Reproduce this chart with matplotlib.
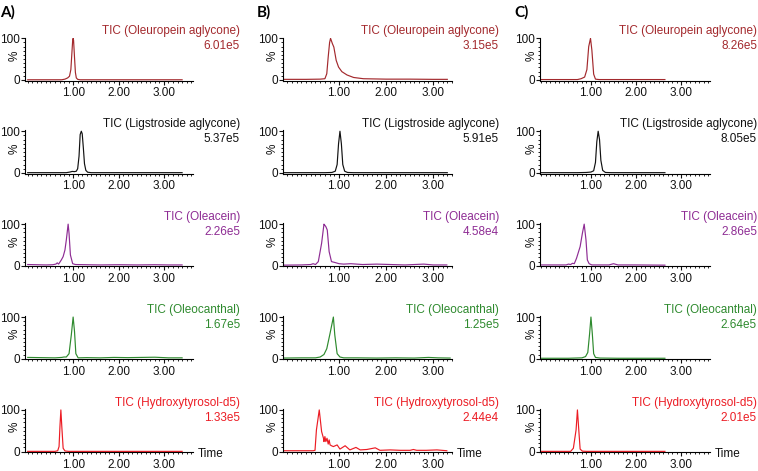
#!/usr/bin/env python
"""
TIC chromatograms of the five olive phenols in three samples (A, B, C).
Each trace is normalised to 100 % with its absolute intensity printed under the name.
"""
import matplotlib
matplotlib.use("Agg")
import matplotlib.pyplot as plt
from matplotlib.ticker import FixedLocator, MultipleLocator

plt.rcParams['font.family'] = ['Liberation Sans', 'DejaVu Sans']

compounds = ["Oleuropein aglycone", "Ligstroside aglycone", "Oleacein",
             "Oleocanthal", "Hydroxytyrosol-d5"]
panel_names = ["A)", "B)", "C)"]
scales_a = ["6.01e5", "5.37e5", "2.26e5", "1.67e5", "1.33e5"]
scales_b = ["3.15e5", "5.91e5", "4.58e4", "1.25e5", "2.44e4"]
scales_c = ["8.26e5", "8.05e5", "2.86e5", "2.64e5", "2.01e5"]
x_ticks = [1, 2, 3]

# --- sample A (time in min, intensity in %) ---
a1_t = [0.00, 0.75, 0.82, 0.88, 0.92, 0.95, 0.97, 0.99, 1.00, 1.01, 1.03, 1.05, 1.07, 1.10, 1.15, 3.40]
a1_y = [0.5, 0.5, 2, 5, 9, 25, 60, 95, 100, 95, 55, 18, 5, 1.5, 0.5, 0.5]
a2_t = [0.00, 0.85, 0.93, 0.98, 1.03, 1.07, 1.10, 1.13, 1.155, 1.18, 1.20, 1.225, 1.25, 1.28, 1.32, 1.40, 3.40]
a2_y = [0.5, 0.5, 2, 3.5, 3, 4, 10, 40, 92, 100, 94, 60, 22, 6, 1.5, 0.5, 0.5]
a3_t = [0.00, 0.20, 0.40, 0.55, 0.62, 0.65, 0.68, 0.74, 0.78, 0.82, 0.85, 0.89, 0.91, 0.94, 0.99,
        1.05, 1.30, 1.60, 2.00, 2.40, 2.80, 3.10, 3.40]
a3_y = [3, 2.5, 2, 2.5, 4, 7, 4, 14, 22, 38, 62, 100, 78, 26, 5, 3, 2.5, 2, 2.5, 2, 2.5, 2, 2]
a4_t = [0.00, 0.30, 0.60, 0.75, 0.80, 0.85, 0.91, 0.96, 1.00, 1.03, 1.06, 1.11, 1.30, 1.60, 1.90,
        2.20, 2.50, 2.80, 3.10, 3.40]
a4_y = [3, 2.5, 2, 3, 4, 4, 12, 57, 100, 66, 12, 2, 2.5, 2, 3, 2.5, 3, 3.5, 2, 2]
a5_t = [0.00, 0.60, 0.66, 0.69, 0.71, 0.73, 0.75, 0.78, 0.82, 0.90, 3.40]
a5_y = [0.5, 0.5, 2, 12, 61, 100, 61, 8, 1.5, 0.5, 0.5]

# --- sample B ---
b1_t = [-0.18, 0.30, 0.60, 0.70, 0.74, 0.77, 0.80, 0.82, 0.86, 0.89, 0.94, 0.99, 1.06, 1.17, 1.31,
        1.52, 2.00, 2.50, 3.00, 3.30]
b1_y = [1.5, 1.5, 2, 3, 15, 55, 90, 100, 87, 79, 47, 31, 20, 12, 6, 3, 2, 2, 1.5, 1.5]
b2_t = [-0.18, 0.70, 0.85, 0.92, 0.96, 0.99, 1.02, 1.05, 1.08, 1.12, 1.18, 1.30, 3.30]
b2_y = [0.5, 0.5, 1, 4, 20, 70, 100, 70, 20, 4, 1, 0.5, 0.5]
b3_t = [-0.18, 0.20, 0.40, 0.45, 0.50, 0.56, 0.60, 0.63, 0.68, 0.70, 0.72, 0.75, 0.79, 0.84, 0.91,
        1.00, 1.10, 1.25, 1.50, 1.80, 2.10, 2.40, 2.80, 3.00, 3.29]
b3_y = [1.5, 2, 3, 5, 3, 10, 35, 54, 100, 97, 94, 86, 34, 10, 8, 5, 4, 5, 3, 4, 3, 2, 4, 2, 2]
b4_t = [-0.18, 0.20, 0.50, 0.60, 0.68, 0.74, 0.81, 0.88, 0.91, 0.96, 1.02, 1.10, 1.40, 1.80, 2.20,
        2.60, 2.90, 3.10, 3.36]
b4_y = [1.5, 2, 2, 4, 10, 24, 61, 100, 57, 12, 4, 2, 2, 1.5, 2, 1.5, 3, 2, 1.5]
b5_t = [-0.18, 0.20, 0.45, 0.49, 0.52, 0.58, 0.63, 0.67, 0.68, 0.70, 0.72, 0.745, 0.77, 0.79, 0.81,
        0.84, 0.88, 0.96, 1.02, 1.13, 1.23, 1.36, 1.45, 1.59, 1.77, 1.87, 2.09, 2.30, 2.51, 2.58,
        2.65, 2.85, 3.08, 3.29]
b5_y = [2, 2, 2, 3, 52, 100, 48, 32, 24, 36, 24, 32, 18, 28, 16, 14, 12, 16, 6, 14, 4, 10, 4, 5,
        9, 3, 4, 3, 3, 5, 3, 3, 4, 2]

# --- sample C ---
c1_t = [-0.13, 0.40, 0.70, 0.78, 0.86, 0.91, 0.95, 0.99, 1.02, 1.06, 1.10, 1.18, 2.00, 2.64]
c1_y = [1, 1, 1, 3, 7, 25, 80, 100, 72, 14, 2, 1, 1, 1]
c2_t = [-0.13, 0.70, 0.90, 1.00, 1.06, 1.10, 1.13, 1.16, 1.19, 1.22, 1.26, 1.32, 1.45, 2.64]
c2_y = [0.5, 0.5, 1, 2, 5, 25, 75, 100, 80, 30, 6, 1, 0.5, 0.5]
c3_t = [-0.10, 0.20, 0.45, 0.50, 0.55, 0.59, 0.63, 0.68, 0.76, 0.81, 0.85, 0.89, 0.92, 0.96, 1.02,
        1.40, 1.50, 1.60, 2.00, 2.64]
c3_y = [2, 2, 2, 4, 3, 6, 5, 18, 46, 78, 100, 62, 14, 5, 2, 2, 5, 2, 2, 1.5]
c4_t = [-0.13, 0.50, 0.80, 0.88, 0.93, 0.97, 1.00, 1.03, 1.06, 1.10, 1.20, 1.60, 2.00, 2.64]
c4_y = [1, 1, 2, 5, 15, 60, 100, 60, 12, 3, 1.5, 1, 1, 1]
c5_t = [-0.13, 0.55, 0.61, 0.67, 0.70, 0.73, 0.76, 0.81, 0.90, 2.64]
c5_y = [0.5, 0.5, 8, 52, 100, 52, 6, 1, 0.5, 0.5]

traces = [
    [(a1_t, a1_y), (a2_t, a2_y), (a3_t, a3_y), (a4_t, a4_y), (a5_t, a5_y)],
    [(b1_t, b1_y), (b2_t, b2_y), (b3_t, b3_y), (b4_t, b4_y), (b5_t, b5_y)],
    [(c1_t, c1_y), (c2_t, c2_y), (c3_t, c3_y), (c4_t, c4_y), (c5_t, c5_y)],
]
scales = [scales_a, scales_b, scales_c]
colors = ['#a3292d', '#111111', '#8e2c94', '#2e8a2e', '#ec1c24']

W, H = 758, 471

# layout in pixels
col_left = [25, 283, 540]
col_width = [168, 169, 170]
col_xlim = [(-0.06, 3.64), (-0.19, 3.40), (-0.13, 3.64)]
col_text_right = [240, 499, 757]
col_letter_x = [0, 257, 514]
col_pct_x = [-0.025, -0.025, -0.015]
row_top = 37.5
row_step = 92.9
ax_height = 43.1


def fx(px):
    return px / W


def fy(py):
    return 1 - py / H


fig = plt.figure(figsize=(W / 100, H / 100), dpi=100)

for c in range(3):
    fig.text(fx(col_letter_x[c]), fy(16.5), panel_names[c], fontsize=11,
             fontweight='bold', family=['Lato', 'DejaVu Sans'], ha='left', va='baseline')
    for r in range(5):
        top = row_top + row_step * r
        ax = fig.add_axes([fx(col_left[c]), fy(top + ax_height),
                           fx(col_width[c]), ax_height / H])
        t, y = traces[c][r]
        ax.plot(t, y, color=colors[r], lw=0.85)
        ax.set_xlim(*col_xlim[c])
        ax.set_ylim(-1.5, 102)

        for side in ('top', 'right'):
            ax.spines[side].set_visible(False)
        for side in ('left', 'bottom'):
            ax.spines[side].set_linewidth(0.8)

        ax.xaxis.set_major_locator(FixedLocator(x_ticks))
        ax.xaxis.set_minor_locator(MultipleLocator(0.1))
        ax.set_xticklabels([f"{v:.2f}" for v in x_ticks])
        ax.yaxis.set_major_locator(FixedLocator([0, 100]))
        ax.yaxis.set_minor_locator(MultipleLocator(10))
        ax.set_yticklabels(["0", "100"])
        ax.tick_params(which='major', length=2.8, width=0.8, labelsize=8.5,
                       colors='#111111')
        ax.tick_params(which='minor', length=1.6, width=0.6)
        ax.tick_params(axis='x', which='major', pad=2)
        ax.tick_params(axis='y', which='major', pad=0.5)

        ax.set_ylabel('%', fontsize=8.5, color='#111111')
        ax.yaxis.set_label_coords(col_pct_x[c], 0.58)

        right = col_text_right[c]
        fig.text(fx(right), fy(34.3 + row_step * r), f"TIC ({compounds[r]})",
                 color=colors[r], fontsize=8.5, ha='right', va='baseline')
        fig.text(fx(right), fy(49.3 + row_step * r), scales[c][r],
                 color=colors[r], fontsize=8.5, ha='right', va='baseline')

        if r == 4:
            fig.text(fx(col_left[c] + col_width[c] + 5), fy(457), "Time",
                     fontsize=8.5, color='#111111', ha='left', va='baseline')

fig.savefig('out.png', dpi=100)
